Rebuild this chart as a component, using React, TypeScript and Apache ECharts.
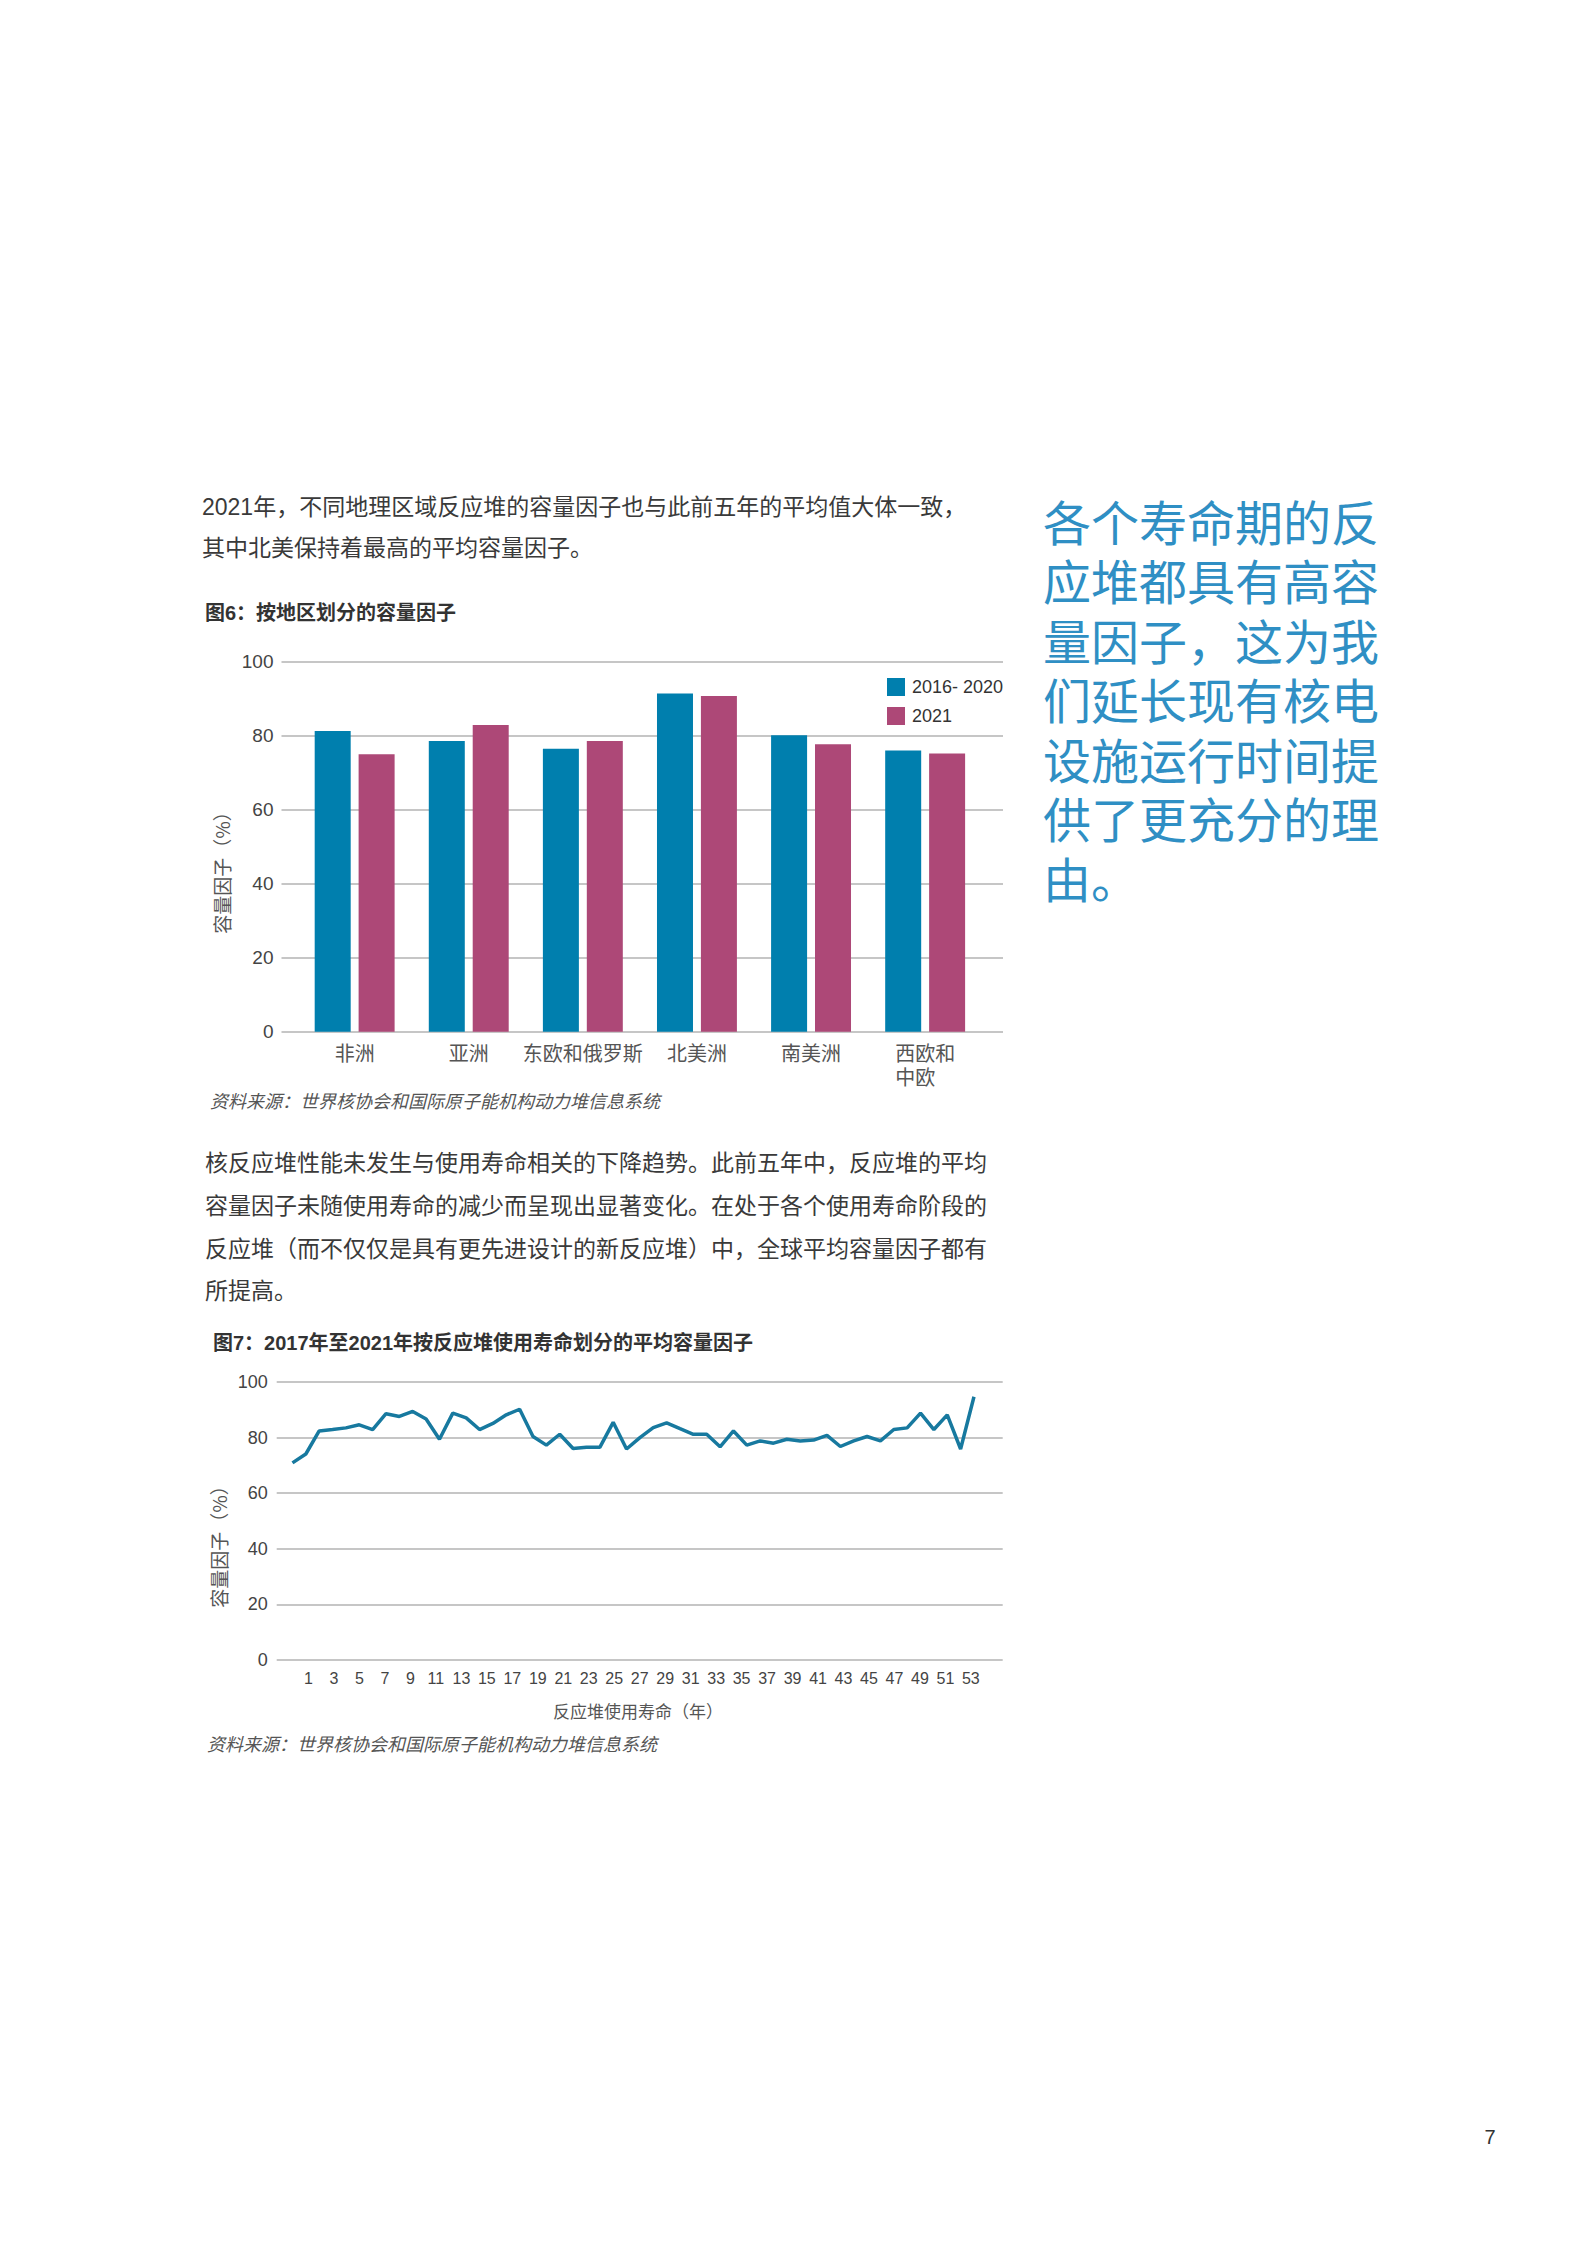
import { useEffect, useRef } from 'react';
import * as echarts from 'echarts';

// 图6 数据
const regions = ['非洲', '亚洲', '东欧和俄罗斯', '北美洲', '南美洲', '西欧和\n中欧'];
const avg2016to2020 = [81.3, 78.6, 76.5, 91.4, 80.1, 76.0];
const values2021 = [75.0, 82.9, 78.6, 90.7, 77.7, 75.2];
const legendNames = ['2016- 2020', '2021'];

// 图7 数据（按使用寿命的平均容量因子）
const lifeValues = [
  70.9, 74.1, 82.4, 82.9, 83.5, 84.6, 82.9, 88.6, 87.6, 89.4,
  86.7, 79.4, 88.8, 87.1, 82.9, 85.1, 88.2, 90.2, 80.4, 77.3,
  81.2, 76.1, 76.5, 76.5, 85.5, 75.9, 80.0, 83.6, 85.3, 83.2,
  81.2, 81.2, 76.7, 82.4, 77.3, 78.8, 78.0, 79.4, 78.8, 79.1,
  80.8, 76.8, 78.8, 80.4, 78.8, 82.9, 83.5, 88.8, 82.9, 88.2,
  75.9, 94.7,
];
const lifeTickLabels = [1, 3, 5, 7, 9, 11, 13, 15, 17, 19, 21, 23, 25, 27, 29, 31, 33, 35, 37, 39, 41, 43, 45, 47, 49, 51, 53];

const para1 = [
  '2021年，不同地理区域反应堆的容量因子也与此前五年的平均值大体一致，',
  '其中北美保持着最高的平均容量因子。',
];
const para2 = [
  '核反应堆性能未发生与使用寿命相关的下降趋势。此前五年中，反应堆的平均',
  '容量因子未随使用寿命的减少而呈现出显著变化。在处于各个使用寿命阶段的',
  '反应堆（而不仅仅是具有更先进设计的新反应堆）中，全球平均容量因子都有',
  '所提高。',
];
const callout = ['各个寿命期的反', '应堆都具有高容', '量因子，这为我', '们延长现有核电', '设施运行时间提', '供了更充分的理', '由。'];

const CJK = '"Noto Sans CJK SC", sans-serif';
const MIX = '"Liberation Sans", "Noto Sans CJK SC", sans-serif';
const BLUE = '#007fae';
const MAGENTA = '#ad4877';
const GRID_LINE = '#c6c6c6';

const text = (t: string, x: number, y: number, extra: any = {}) => ({
  type: 'text',
  x,
  y,
  silent: true,
  style: {
    text: t,
    fill: '#3a3a3a',
    fontSize: 23,
    fontFamily: MIX,
    align: 'left',
    verticalAlign: 'middle',
    ...extra,
  },
});

const App: React.FC = () => {
  const divRef = useRef<HTMLDivElement | null>(null);

  useEffect(() => {
    if (!divRef.current) return;
    const chart = echarts.init(divRef.current, null, { renderer: 'svg' });

    const graphics: any[] = [];
    para1.forEach((t, i) => graphics.push(text(t, 202, 507 + i * 41)));
    graphics.push(text('图6：按地区划分的容量因子', 205, 613, { fontSize: 20, fontWeight: 'bold', fill: '#333' }));
    graphics.push({
      type: 'text',
      x: 221,
      y: 868,
      rotation: Math.PI / 2,
      silent: true,
      style: { text: '容量因子（%）', fill: '#555', fontSize: 19, fontFamily: CJK, align: 'center', verticalAlign: 'middle' },
    });
    graphics.push(text('资料来源：世界核协会和国际原子能机构动力堆信息系统', 210, 1100, { fontSize: 18, fontStyle: 'italic', fill: '#555', fontFamily: CJK }));
    para2.forEach((t, i) => graphics.push(text(t, 205, 1163 + i * 42.8)));
    graphics.push(text('图7：2017年至2021年按反应堆使用寿命划分的平均容量因子', 213, 1343, { fontSize: 20, fontWeight: 'bold', fill: '#333' }));
    graphics.push({
      type: 'text',
      x: 218,
      y: 1542,
      rotation: Math.PI / 2,
      silent: true,
      style: { text: '容量因子（%）', fill: '#555', fontSize: 19, fontFamily: CJK, align: 'center', verticalAlign: 'middle' },
    });
    graphics.push(text('反应堆使用寿命（年）', 638, 1710, { fontSize: 17, fill: '#555', align: 'center', fontFamily: CJK }));
    graphics.push(text('资料来源：世界核协会和国际原子能机构动力堆信息系统', 207, 1743, { fontSize: 18, fontStyle: 'italic', fill: '#555', fontFamily: CJK }));
    graphics.push(
      text(callout.join('\n'), 1043, 490, {
        fontSize: 48,
        lineHeight: 59.5,
        fill: '#2f8fc4',
        fontFamily: CJK,
        verticalAlign: 'top',
      })
    );
    graphics.push(text('7', 1490, 2137, { fontSize: 20, fill: '#333', align: 'center' }));

    const option: any = {
      animation: false,
      backgroundColor: '#fff',
      graphic: graphics,
      legend: {
        data: legendNames,
        orient: 'vertical',
        left: 882,
        top: 673,
        itemWidth: 18,
        itemHeight: 18,
        itemGap: 11,
        icon: 'rect',
        textStyle: { fontSize: 18, color: '#333', fontFamily: MIX, padding: [0, 0, 0, 2] },
      },
      grid: [
        { left: 281.5, width: 721.5, top: 661.7, height: 370 },
        { left: 297.6, width: 684.6, top: 661.7, height: 370 },
        { left: 276.7, width: 726, top: 1382, height: 278 },
      ],
      xAxis: [
        { gridIndex: 0, type: 'value', show: false, min: 0, max: 1 },
        {
          gridIndex: 1,
          type: 'category',
          data: regions,
          axisLine: { show: false },
          axisTick: { show: false },
          axisLabel: {
            interval: 0,
            margin: 9,
            fontSize: 20,
            lineHeight: 24,
            color: '#555',
            fontFamily: CJK,
            formatter: (v: string) =>
              v.includes('\n') ? v.split('\n').map((s) => `{w|${s}}`).join('\n') : v,
            rich: { w: { width: 60, align: 'left', fontSize: 20, lineHeight: 24, color: '#555', fontFamily: CJK } },
          },
        },
        {
          gridIndex: 2,
          type: 'value',
          min: -1.5,
          max: 55.5,
          interval: 0.5,
          axisLine: { show: false },
          axisTick: { show: false },
          splitLine: { show: false },
          axisLabel: {
            margin: 10,
            fontSize: 16,
            color: '#444',
            fontFamily: MIX,
            showMinLabel: false,
            showMaxLabel: false,
            formatter: (v: number) => (lifeTickLabels.includes(v) ? String(v) : ''),
          },
        },
        { gridIndex: 2, type: 'value', show: false, min: -1.18, max: 53.15 },
      ],
      yAxis: [
        {
          gridIndex: 0,
          type: 'value',
          min: 0,
          max: 100,
          interval: 20,
          axisLine: { show: false },
          axisTick: { show: false },
          axisLabel: { margin: 8, fontSize: 19, color: '#444', fontFamily: MIX },
          splitLine: { lineStyle: { color: GRID_LINE, width: 2 } },
        },
        { gridIndex: 1, type: 'value', min: 0, max: 100, show: false },
        {
          gridIndex: 2,
          type: 'value',
          min: 0,
          max: 100,
          interval: 20,
          axisLine: { show: false },
          axisTick: { show: false },
          axisLabel: { margin: 9, fontSize: 18, color: '#444', fontFamily: MIX },
          splitLine: { lineStyle: { color: GRID_LINE, width: 2 } },
        },
      ],
      series: [
        {
          name: legendNames[0],
          type: 'bar',
          xAxisIndex: 1,
          yAxisIndex: 1,
          data: avg2016to2020,
          barWidth: 36,
          barGap: '22%',
          itemStyle: { color: BLUE },
        },
        {
          name: legendNames[1],
          type: 'bar',
          xAxisIndex: 1,
          yAxisIndex: 1,
          data: values2021,
          barWidth: 36,
          barGap: '22%',
          itemStyle: { color: MAGENTA },
        },
        {
          name: 'life',
          type: 'line',
          xAxisIndex: 3,
          yAxisIndex: 2,
          data: lifeValues.map((v, i) => [i, v]),
          symbol: 'none',
          lineStyle: { color: '#17799f', width: 3.5 },
          itemStyle: { color: '#17799f' },
        },
      ],
    };

    chart.setOption(option);
    return () => chart.dispose();
  }, []);

  return (
    <div
      ref={divRef}
      style={{ position: 'absolute', left: 0, top: 0, width: 1585, height: 2245 }}
    />
  );
};

export default App;
